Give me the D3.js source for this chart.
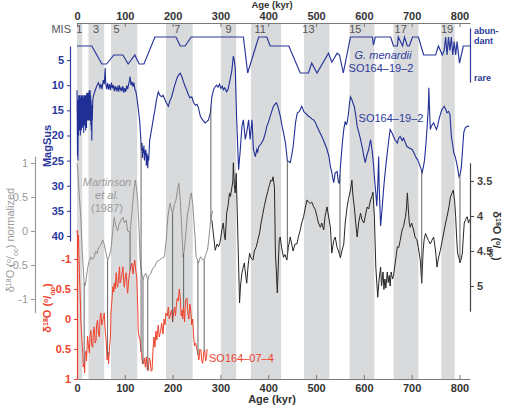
<!DOCTYPE html>
<html>
<head>
<meta charset="utf-8">
<script src="https://cdn.jsdelivr.net/npm/d3@7"></script>
<style>
  body { margin: 0; background: #fff; }
  text { font-family: "Liberation Sans", Arial, Helvetica, sans-serif; }
</style>
</head>
<body>
<div id="chart"></div>
<script>
// ---- data ----
const misBands = [[0, 11], [24, 57], [71, 126], [186, 242], [301, 333], [364, 427], [475, 528], [570, 622], [662, 714], [762, 790]];
const misNames = ['1', '3', '5', '7', '9', '11', '13', '15', '17', '19'];
const misAges = [5, 40, 83, 210, 317, 383, 484, 582, 677, 774];
const ageTicks = [0, 100, 200, 300, 400, 500, 600, 700, 800];

// G. menardii abundance, 0 = rare ... 4 = abundant
const menardii = [[0, 3], [31, 3], [52, 1], [62, 1], [77, 2], [96, 2], [107, 1], [121, 2], [130, 1], [140, 1], [163, 4], [207, 4], [216, 3], [226, 3], [239, 4], [348, 4], [357, 0], [380, 4], [397, 4], [404, 3], [443, 3], [467, 0], [484, 0], [491, 1.1], [502, 0], [526, 2.2], [533, 1.2], [544, 2.2], [549, 2], [557, 0], [572, 4], [618, 4], [620, 3.1], [624, 4], [656, 4], [662, 3], [670, 3], [672, 4], [681, 3], [685, 4], [691, 3], [695, 3], [702, 4], [714, 4], [725, 2], [750, 2], [756, 3], [764, 2], [768, 2.5], [771, 4], [774, 2], [777, 4], [780, 2.5], [783, 4], [786, 2], [789, 3.5], [792, 2], [795, 3.5], [798, 2], [800, 1.1], [808, 3], [822, 3]];

// magnetic susceptibility SO164-19-2
const magSus = [[0, 11], [0.5, 16], [1, 24], [1.5, 14], [2, 25], [2.5, 13], [3, 20], [3.5, 12], [4, 18], [4.5, 13], [5, 19], [5.5, 12], [6, 17], [6.5, 13], [7, 20], [7.5, 12.5], [8, 18], [8.5, 12], [9, 19], [9.5, 13], [10, 17], [10.5, 12], [11, 18.5], [11.5, 12.5], [12, 17], [12.5, 12], [13, 18], [13.5, 13], [14, 19.5], [14.5, 12.5], [15, 17], [15.5, 12], [16, 18], [16.5, 12.5], [17, 17.5], [17.5, 12], [18, 19], [18.5, 13], [19, 17], [19.5, 12], [20, 18.5], [20.5, 11.5], [21, 17], [21.5, 12], [22, 16], [22.5, 11.5], [23, 17], [23.5, 12], [24, 16.5], [24.5, 11.5], [25, 17], [25.5, 11], [26, 15.5], [26.5, 12], [27, 17], [27.5, 11], [28, 16], [28.5, 12], [29, 18], [29.5, 13], [30, 19], [30.5, 14], [31, 21], [31.5, 15], [32, 17], [33, 13], [34, 12.3], [38, 11], [42, 10], [45, 9.5], [48, 10.5], [50, 9.8], [52, 10.8], [55, 9], [57, 9.8], [59, 6.6], [60, 9.5], [62, 10.8], [64, 9.6], [66, 10.9], [68, 9.8], [70, 11], [72, 9.5], [74, 10.6], [76, 10], [78, 11.2], [80, 10.2], [82, 11], [84, 10.4], [86, 11.3], [88, 10], [90, 11], [92, 10.5], [94, 11.2], [96, 10.2], [98, 11.5], [100, 10.6], [102, 11.3], [104, 10.1], [106, 10.8], [108, 9.8], [110, 9], [111, 8.3], [113, 10], [115, 9.3], [117, 10.3], [119, 9.5], [121, 10.8], [123, 11.2], [125, 12.3], [128, 14.5], [131, 17], [133, 20], [135, 23], [136, 21.5], [137, 24.5], [138, 22.5], [139, 23.5], [140, 22], [141, 25], [142, 23], [143, 24], [144, 22.8], [145, 26], [146, 23.5], [147, 24.5], [148, 26.5], [149, 24], [150, 25], [152, 21], [156, 18.8], [160, 16.5], [163, 14.9], [166, 13], [170, 11.3], [173, 12], [177, 12.3], [180, 12], [184, 12.9], [187, 13.5], [191, 14.2], [194, 13.2], [198, 12.3], [203, 10.5], [209, 8.6], [213, 7.9], [216, 7.6], [219, 8.2], [223, 9.4], [226, 10.2], [228, 10.6], [233, 11.9], [236, 12.5], [240, 12.3], [244, 13.5], [248, 14], [251, 13.8], [254, 14.5], [258, 16.2], [262, 16.8], [268, 17.5], [272, 17.2], [275, 16.9], [279, 15.5], [282, 12.3], [286, 10.8], [289, 10.3], [292, 10], [295, 10.4], [298, 9.8], [301, 10.6], [304, 10.2], [306, 10.9], [309, 10.5], [313, 11.3], [316, 10.8], [320, 9], [324, 7], [327, 4.2], [329, 5], [331, 6.6], [334, 16.9], [338, 26.8], [341, 23.5], [345, 18.2], [348, 16.9], [352, 20.8], [355, 19.4], [359, 16.9], [362, 20.8], [366, 16.9], [369, 22.8], [373, 24.2], [376, 22.8], [378, 23.3], [380, 22.2], [384, 21.8], [387, 21.3], [390, 20.8], [394, 19.5], [397, 18.2], [401, 17.2], [404, 16.2], [408, 15], [411, 14.2], [414, 13.8], [417, 13.5], [420, 14.2], [422, 14.9], [426, 16.5], [429, 18.2], [432, 19.5], [436, 21.5], [440, 25], [443, 25.2], [446, 25.4], [449, 24], [452, 22.2], [455, 19.5], [457, 17.5], [459, 16.4], [461, 15.5], [464, 15.3], [467, 14.9], [470, 14.2], [472, 14.6], [474, 15.2], [477, 15.5], [481, 15.8], [484, 16.2], [488, 16.4], [491, 16.7], [495, 16.9], [499, 17.5], [502, 18.2], [507, 19.2], [512, 20.2], [517, 21.3], [523, 22.8], [527, 24.2], [530, 26.2], [533, 27.4], [535, 28.5], [537, 29.4], [540, 27.5], [544, 27.2], [547, 29.4], [549, 29.5], [551, 26.2], [555, 21.5], [558, 18.8], [561, 17.2], [563, 17.8], [565, 17.5], [568, 15.5], [570, 13.5], [572, 12.3], [575, 12.9], [577, 13.5], [580, 14.2], [583, 16], [586, 18.2], [590, 19.6], [593, 20.8], [597, 22.5], [600, 24.2], [603, 25.4], [606, 24], [610, 22.8], [614, 20.8], [617, 22.8], [620, 25.6], [622, 28.2], [625, 31.5], [627, 34.1], [629, 30], [631, 24.2], [632, 30], [635, 38], [638, 34.7], [641, 31], [643, 28.8], [646, 26], [649, 23.4], [652, 21], [655, 18.8], [659, 19.5], [662, 20.2], [666, 21], [670, 21.5], [673, 20.5], [676, 20.2], [680, 21], [683, 20.5], [687, 21.5], [690, 22.2], [695, 22.5], [701, 22.8], [705, 23.5], [708, 24.2], [712, 24.8], [715, 25.4], [719, 26.5], [722, 27.4], [725, 26], [727, 24.8], [730, 21.5], [732, 18.8], [735, 14], [736, 10.5], [737, 14], [739, 18.8], [742, 18], [746, 17.5], [749, 18.2], [752, 18.8], [755, 17.8], [757, 16.9], [760, 15.8], [763, 14.9], [766, 14.5], [768, 14.2], [771, 14.8], [774, 15.5], [777, 15.2], [780, 15.8], [783, 20.2], [786, 22], [788, 23.4], [791, 24.2], [794, 25.4], [797, 27], [799, 28.2], [802, 27.5], [804, 26.2], [807, 22], [809, 19.4], [812, 18.5], [816, 18.2], [820, 18.2]];

// Martinson et al. (1987), normalized d18O
const martinson = [[0, 1.0], [1.5, 0.9], [4, 0.6], [8, 0.2], [11, -0.3], [15, -0.77], [17, -0.8], [19, -0.72], [22, -0.55], [26, -0.43], [29, -0.38], [32, -0.42], [36, -0.38], [39, -0.3], [42, -0.33], [45, -0.25], [47, -0.23], [50, -0.2], [54, -0.13], [57, -0.2], [60, -0.3], [64, -0.43], [67, -0.38], [71, -0.28], [74, -0.05], [78, 0.2], [81, 0.08], [85, 0.0], [88, 0.1], [92, 0.16], [96, 0.2], [99, 0.12], [103, 0.16], [106, 0.0], [111, -0.02], [114, 0.2], [117, 0.45], [120, 0.65], [122, 0.75], [125, 0.6], [127, 0.45], [130, 0.0], [132, -0.43], [135, -0.6], [138, -0.72], [141, -0.65], [144, -0.62], [148, -0.72], [151, -0.65], [155, -0.62], [158, -0.55], [162, -0.53], [167, -0.45], [172, -0.43], [177, -0.4], [183, -0.38], [187, -0.1], [190, 0.2], [193, 0.35], [195, 0.41], [198, 0.3], [200, 0.25], [204, 0.4], [207, 0.45], [210, 0.6], [213, 0.7], [216, 0.45], [218, 0.2], [220, -0.1], [222, -0.38], [225, -0.25], [228, 0.0], [231, 0.25], [234, 0.35], [237, 0.5], [239, 0.56], [242, 0.4], [244, 0.2], [247, -0.1], [249, -0.38], [251, -0.4], [254, -0.47], [257, -0.4], [259, -0.38], [262, -0.42], [266, -0.43], [269, -0.35], [273, -0.28], [276, -0.1], [279, 0.12], [282, 0.25], [284, 0.3]];

// benthic d18O SO164-19-2 (permil)
const d18o = [[282, 4.06], [286, 4.3], [289, 4.49], [293, 4.4], [296, 4.44], [299, 4.38], [301, 4.3], [303, 4.2], [306, 4.1], [308, 4.25], [310, 4.34], [312, 4.1], [313, 3.96], [316, 3.85], [319, 3.67], [321, 3.72], [324, 3.59], [326, 3.5], [327, 3.24], [329, 3.55], [331, 3.67], [333, 3.39], [336, 4.16], [338, 4.7], [340, 5.24], [342, 5.0], [345, 4.81], [347, 4.75], [350, 4.67], [352, 4.8], [355, 4.96], [358, 4.7], [361, 4.53], [364, 4.6], [368, 4.63], [371, 4.5], [375, 4.44], [378, 4.35], [382, 4.24], [385, 4.1], [389, 3.96], [392, 3.85], [396, 3.73], [399, 3.65], [401, 3.59], [403, 3.55], [405, 3.49], [408, 3.5], [410, 3.44], [413, 3.59], [415, 4.53], [417, 4.8], [419, 5.1], [421, 4.7], [423, 4.34], [425, 4.3], [428, 4.45], [432, 4.59], [435, 4.55], [439, 4.63], [442, 4.45], [446, 4.3], [449, 4.4], [452, 4.5], [456, 4.4], [460, 4.4], [463, 4.3], [467, 4.2], [470, 4.1], [474, 4.01], [477, 3.9], [481, 3.77], [484, 3.8], [488, 3.82], [491, 3.8], [495, 3.87], [498, 3.9], [502, 4.01], [505, 4.1], [509, 4.16], [512, 4.1], [516, 4.2], [519, 4.0], [523, 3.87], [526, 4.0], [530, 4.16], [533, 4.53], [537, 4.35], [540, 4.3], [544, 4.45], [547, 4.5], [551, 4.6], [554, 4.5], [558, 4.4], [561, 4.1], [565, 3.87], [568, 3.75], [572, 3.63], [575, 3.49], [577, 3.7], [580, 3.87], [583, 4.1], [586, 4.3], [589, 4.1], [593, 3.96], [596, 4.05], [600, 4.1], [603, 4.0], [607, 3.87], [610, 3.9], [614, 3.77], [617, 3.72], [619, 3.66], [622, 4.01], [625, 4.73], [629, 5.16], [632, 4.9], [635, 4.73], [637, 5.0], [640, 4.8], [642, 5.05], [644, 4.9], [646, 5.03], [649, 4.8], [651, 4.95], [653, 4.85], [655, 5.0], [657, 4.8], [660, 4.9], [662, 4.85], [665, 4.7], [668, 4.55], [670, 4.44], [673, 4.45], [676, 4.35], [680, 4.2], [683, 4.15], [687, 4.01], [689, 3.9], [691, 3.67], [693, 3.9], [695, 4.1], [697, 4.16], [700, 4.1], [704, 4.2], [707, 4.3], [711, 4.34], [714, 4.45], [718, 4.63], [721, 4.96], [724, 4.5], [726, 4.34], [729, 4.25], [732, 4.3], [735, 4.35], [739, 4.4], [742, 4.35], [746, 4.3], [750, 4.5], [753, 4.73], [756, 4.6], [760, 4.49], [764, 4.35], [767, 4.24], [771, 4.1], [774, 4.01], [778, 3.87], [781, 3.73], [784, 3.68], [787, 3.63], [790, 3.8], [792, 4.01], [794, 4.3], [796, 4.53], [799, 4.6], [801, 4.67], [804, 4.6], [806, 4.53], [808, 4.3], [810, 4.1], [813, 4.05], [816, 4.01], [819, 4.1], [821, 4.05]];

// planktic d18O SO164-07-4 (permil)
const so0704 = [[0, -1.48], [1, -1.43], [2, -1.2], [3, -1.4], [5, -0.77], [7, -0.3], [8, 0.02], [10, 0.3], [12, 0.57], [13, 0.8], [15, 0.74], [16, 0.9], [17, 0.6], [19, 0.53], [20, 0.7], [22, 0.29], [24, 0.45], [26, 0.57], [27, 0.3], [29, 0.19], [31, 0.45], [33, 0.47], [34, 0.25], [36, 0.13], [38, 0.4], [40, 0.35], [41, 0.1], [43, 0.02], [45, 0.25], [47, 0.3], [48, 0.0], [50, -0.1], [52, 0.1], [54, 0.02], [56, -0.05], [57, -0.1], [59, 0.2], [61, 0.35], [63, 0.68], [65, 0.55], [66, 0.75], [68, 0.47], [70, 0.3], [71, -0.1], [73, -0.3], [75, -0.54], [77, -0.45], [78, -0.6], [80, -0.5], [82, -0.77], [84, -0.55], [85, -0.53], [87, -0.7], [89, -0.87], [90, -0.6], [92, -0.65], [94, -0.75], [96, -0.87], [98, -0.6], [99, -0.53], [101, -0.7], [103, -0.77], [105, -0.5], [106, -0.43], [108, -0.65], [110, -0.77], [112, -0.85], [115, -0.93], [117, -0.75], [118, -0.82], [120, -0.95], [121, -0.98], [123, -0.8], [125, -0.7], [127, -0.2], [128, 0.19], [130, 0.3], [132, 0.35], [134, 0.55], [135, 0.57], [137, 0.75], [139, 0.74], [141, 0.65], [143, 0.8], [145, 0.63], [147, 0.85], [149, 0.86], [151, 0.65], [153, 0.68], [155, 0.87], [157, 0.86], [159, 0.5], [161, 0.3], [163, 0.47], [165, 0.2], [167, 0.35], [170, 0.1], [172, 0.3], [175, 0.2], [177, 0.07], [180, 0.25], [182, 0.0], [184, 0.1], [186, -0.1], [189, -0.05], [191, -0.2], [193, 0.0], [196, -0.1], [198, -0.15], [200, 0.05], [202, -0.1], [204, -0.2], [206, -0.05], [208, -0.25], [210, -0.35], [212, -0.3], [214, -0.5], [216, -0.35], [218, -0.05], [220, -0.15], [221, 0.0], [223, -0.2], [225, 0.05], [227, -0.3], [230, -0.35], [232, -0.1], [234, 0.0], [236, -0.25], [238, -0.15], [240, 0.1], [242, 0.0], [244, 0.3], [246, 0.45], [248, 0.4], [250, 0.47], [252, 0.55], [255, 0.68], [257, 0.5], [259, 0.52], [261, 0.7], [263, 0.74], [265, 0.55], [267, 0.52], [269, 0.7], [271, 0.63], [272, 0.5]];

// age-model tie points: age, upper record, lower record
const tieAges = [15, 64, 111, 134, 138, 148, 200, 223, 253, 266, 280, 440, 550, 721, 801];
const tieFrom = ['gray', 'gray', 'gray', 'mag', 'gray', 'gray', 'gray', 'gray', 'gray', 'gray', 'mag', 'mag', 'mag', 'mag', 'mag'];
const tieTo = ['red', 'red', 'red', 'red', 'red', 'red', 'red', 'red', 'red', 'red', 'gray', 'black', 'black', 'black', 'black'];

// ---- chart ----
const W = 506, H = 412;
const BLUE = '#2b3a9c', LINEBLUE = '#1f2f96', GRAY = '#8e8e8e', BLACK = '#262626', RED = '#f0412c';
const TXT = '#333';

const svg = d3.select('#chart').append('svg').attr('width', W).attr('height', H);

const x = d3.scaleLinear().domain([0, 822]).range([77, 470]);
const yAb = d3.scaleLinear().domain([-1, 5]).range([82, 28]);
const yMag = d3.scaleLinear().domain([2.2, 41]).range([46, 241]);
const yNorm = d3.scaleLinear().domain([1.1, -1.2]).range([156.2, 312.6]);
const yRed = d3.scaleLinear().domain([-1.48, 1]).range([230.2, 379]);
const yBlk = d3.scaleLinear().domain([3.24, 5.36]).range([162.8, 311.2]);

const plotTop = 23, plotBottom = 379;

// interglacial bands
svg.append('g').selectAll('rect').data(misBands).join('rect')
  .attr('x', (d) => x(d[0]))
  .attr('width', (d) => x(d[1]) - x(d[0]))
  .attr('y', plotTop)
  .attr('height', plotBottom - plotTop)
  .attr('fill', '#d9dadb');

// MIS labels
svg.append('text').attr('x', 71).attr('y', 33).attr('text-anchor', 'end')
  .attr('font-size', 11).attr('fill', '#555').text('MIS');
svg.append('g').selectAll('text').data(misNames).join('text')
  .attr('x', (d, i) => x(misAges[i]))
  .attr('y', 33)
  .attr('text-anchor', 'middle')
  .attr('font-size', 11)
  .attr('fill', '#555')
  .text((d) => d);

// age axes
function styleAxis(g, color) {
  g.select('.domain').attr('stroke', color).attr('stroke-width', 1.2);
  g.selectAll('.tick line').attr('stroke', color);
  g.selectAll('.tick text').attr('fill', TXT).attr('font-size', 11).attr('font-weight', 'bold')
    .attr('font-family', '"Liberation Sans", Arial, sans-serif');
}
const xTop = svg.append('g').attr('transform', `translate(0,${plotTop})`)
  .call(d3.axisTop(x).tickValues(ageTicks).tickSize(-4).tickSizeOuter(0).tickPadding(3));
styleAxis(xTop, '#7a7a7a');
const xBot = svg.append('g').attr('transform', `translate(0,${plotBottom})`)
  .call(d3.axisBottom(x).tickValues(ageTicks).tickSize(-4).tickSizeOuter(0).tickPadding(5));
styleAxis(xBot, '#7a7a7a');

svg.append('text').attr('x', 272).attr('y', 8).attr('text-anchor', 'middle')
  .attr('font-size', 9.5).attr('font-weight', 'bold').attr('fill', TXT).text('Age (kyr)');
svg.append('text').attr('x', 272).attr('y', 403).attr('text-anchor', 'middle')
  .attr('font-size', 11).attr('font-weight', 'bold').attr('fill', TXT).text('Age (kyr)');

// value axes
function valueAxis(axis, xpos, color, weight) {
  const g = svg.append('g').attr('transform', `translate(${xpos},0)`).call(axis);
  g.select('.domain').attr('stroke', color).attr('stroke-width', 1.2);
  g.selectAll('.tick line').attr('stroke', color);
  g.selectAll('.tick text').attr('fill', color).attr('font-size', 11).attr('font-weight', weight)
    .attr('font-family', '"Liberation Sans", Arial, sans-serif');
  return g;
}
const fmt = (d) => String(d);
valueAxis(d3.axisLeft(yMag).tickValues([5, 10, 15, 20, 25, 30, 35, 40]).tickSize(3).tickSizeOuter(0).tickPadding(3), 70, BLUE, 'bold');
valueAxis(d3.axisLeft(yNorm).tickValues([1, 0.5, 0, -0.5, -1]).tickFormat(fmt).tickSize(4).tickSizeOuter(0).tickPadding(3), 35, '#999', 'normal');
valueAxis(d3.axisLeft(yRed).tickValues([-1, -0.5, 0, 0.5, 1]).tickFormat(fmt).tickSize(3).tickSizeOuter(0).tickPadding(3), 77, RED, 'bold');
valueAxis(d3.axisRight(yBlk).tickValues([3.5, 4, 4.5, 5]).tickFormat(fmt).tickSize(4).tickSizeOuter(0).tickPadding(3), 470, '#444', 'bold');
valueAxis(d3.axisRight(yAb).tickValues([]).tickSizeOuter(0), 470, BLUE, 'bold');

// abundance labels
svg.append('g').selectAll('text').data(['abun-', 'dant', 'rare']).join('text')
  .attr('x', 474)
  .attr('y', (d, i) => [33.5, 44, 81][i])
  .attr('font-size', 9).attr('font-weight', 'bold').attr('fill', BLUE)
  .text((d) => d);

// curves
const lineOf = (ys) => d3.line().x((d) => x(d[0])).y((d) => ys(d[1]));
svg.append('path').datum(martinson).attr('d', lineOf(yNorm))
  .attr('fill', 'none').attr('stroke', GRAY).attr('stroke-width', 1);
svg.append('path').datum(d18o).attr('d', lineOf(yBlk))
  .attr('fill', 'none').attr('stroke', BLACK).attr('stroke-width', 1);
svg.append('path').datum(so0704).attr('d', lineOf(yRed))
  .attr('fill', 'none').attr('stroke', RED).attr('stroke-width', 1);
svg.append('path').datum(magSus).attr('d', lineOf(yMag))
  .attr('fill', 'none').attr('stroke', LINEBLUE).attr('stroke-width', 1.1);
svg.append('path').datum(menardii).attr('d', lineOf(yAb))
  .attr('fill', 'none').attr('stroke', BLUE).attr('stroke-width', 1.2);

// tie lines between records
const records = {
  mag: { data: magSus, y: yMag },
  gray: { data: martinson, y: yNorm },
  black: { data: d18o, y: yBlk },
  red: { data: so0704, y: yRed },
};
function valueAt(key, age) {
  const r = records[key];
  const ages = r.data.map((d) => d[0]);
  const i = Math.max(1, Math.min(ages.length - 1, d3.bisectLeft(ages, age)));
  const a = r.data[i - 1], b = r.data[i];
  const t = (age - a[0]) / (b[0] - a[0]);
  return r.y(a[1] + t * (b[1] - a[1]));
}
svg.append('g').selectAll('line').data(tieAges).join('line')
  .attr('x1', (d) => x(d)).attr('x2', (d) => x(d))
  .attr('y1', (d, i) => valueAt(tieFrom[i], d))
  .attr('y2', (d, i) => valueAt(tieTo[i], d))
  .attr('stroke', '#555').attr('stroke-width', 0.9);

// in-plot labels
const note = (tx, ty, str, color, anchor, style) => svg.append('text')
  .attr('x', tx).attr('y', ty).attr('text-anchor', anchor || 'start')
  .attr('font-size', 11).attr('fill', color).attr('font-style', style || 'normal').text(str);
note(383, 59, 'G. menardii', BLUE, 'middle', 'italic');
note(381, 72, 'SO164\u201319\u20132', BLUE, 'middle');
note(391, 122, 'SO164\u201319\u20132', BLUE, 'middle');
note(107, 186, 'Martinson', '#999', 'middle', 'italic');
note(107, 199, 'et al.', '#999', 'middle', 'italic');
note(107, 212, '(1987)', '#999', 'middle');
note(209, 362, 'SO164\u201307\u20134', RED, 'start');

// axis titles (rotated)
function d18Title(tx, ty, rot, color, weight, extra) {
  const t = svg.append('text')
    .attr('transform', `translate(${tx},${ty}) rotate(${rot})`)
    .attr('text-anchor', 'middle').attr('font-size', 11)
    .attr('font-weight', weight).attr('fill', color);
  t.append('tspan').text('\u03b4');
  t.append('tspan').attr('baseline-shift', 'super').attr('font-size', 7).text('18');
  t.append('tspan').text('O (');
  t.append('tspan').attr('baseline-shift', 'super').attr('font-size', 7).text('o');
  t.append('tspan').text('/');
  t.append('tspan').attr('baseline-shift', 'sub').attr('font-size', 7).text('oo');
  t.append('tspan').text(')' + (extra || ''));
}
d18Title(14, 240, -90, '#999', 'normal', ' normalized');
d18Title(51, 308, -90, RED, 'bold');
d18Title(493, 236, 90, '#333', 'bold');

svg.append('text').attr('transform', 'translate(51,146) rotate(-90)')
  .attr('text-anchor', 'middle').attr('font-size', 11).attr('font-weight', 'bold')
  .attr('fill', BLUE).text('MagSus');
</script>
</body>
</html>
